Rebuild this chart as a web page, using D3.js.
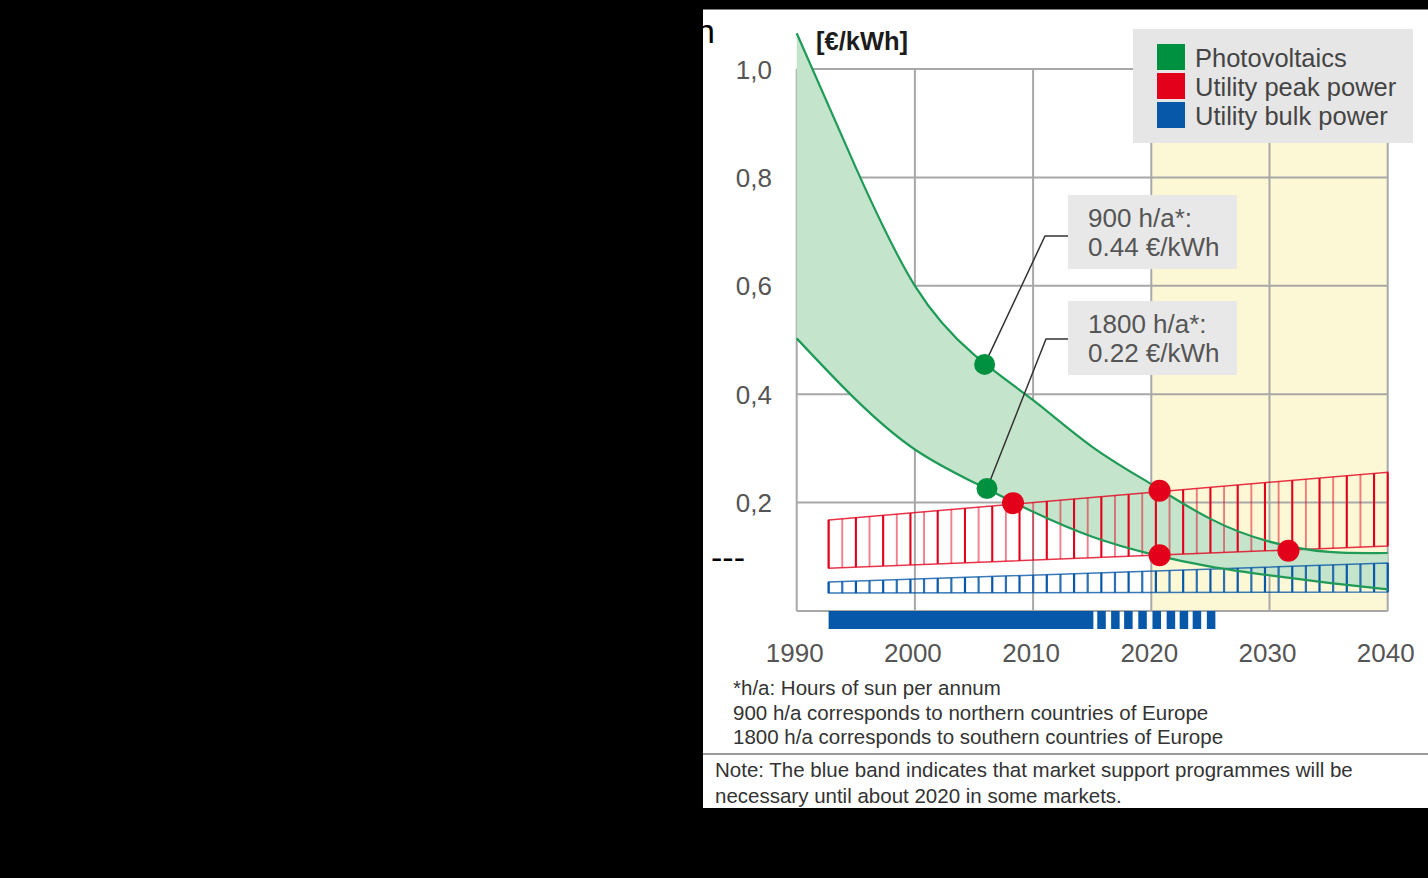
<!DOCTYPE html>
<html><head><meta charset="utf-8">
<script src="https://cdn.jsdelivr.net/npm/d3@7"></script>
<style>
body{margin:0;background:#000;}
svg{display:block;}
text{font-family:"Liberation Sans",Arial,Helvetica,sans-serif;}
</style>
</head><body>
<svg id="c" width="1428" height="878"></svg>
<script>
// ---------- data ----------
const years   = [1990, 1995, 2000, 2005, 2010, 2015, 2020, 2025, 2030, 2035, 2040];
const pvUpper = [1.066, 0.818, 0.600, 0.473, 0.389, 0.303, 0.234, 0.170, 0.128, 0.109, 0.107];
const pvLower = [0.503, 0.390, 0.298, 0.237, 0.183, 0.137, 0.105, 0.082, 0.066, 0.052, 0.040];
const bandYears = [1992.7, 2040];
const peakHigh  = [0.168, 0.256];
const peakLow   = [0.079, 0.120];
const bulkHigh  = [0.0535, 0.0886];
const bulkLow   = [0.033, 0.035];
const peakMarkers = [[2008.3, 0.199], [2020.7, 0.222], [2020.7, 0.103], [2031.6, 0.111]];
const pvMarkers   = [[2005.9, 0.455], [2006.1, 0.226]];
const xTicks = [1990, 2000, 2010, 2020, 2030, 2040];
const yTicks = [0.2, 0.4, 0.6, 0.8, 1.0];
const supportSolid  = [1992.7, 2015.1];
const supportDashes = [2015.43, 2016.6, 2017.7, 2018.9, 2020.1, 2021.3, 2022.4, 2023.5, 2024.7];
const supportDashLen = 0.72;
const outlookRange = [2020, 2040];
const legendItems = ["Photovoltaics", "Utility peak power", "Utility bulk power"];
const callouts = [["900 h/a*:", "0.44 €/kWh"], ["1800 h/a*:", "0.22 €/kWh"]];
const unitLabel = "[€/kWh]";
const footnotes = ["*h/a: Hours of sun per annum",
                   "900 h/a corresponds to northern countries of Europe",
                   "1800 h/a corresponds to southern countries of Europe"];
const notes = ["Note: The blue band indicates that market support programmes will be",
               "necessary until about 2020 in some markets."];

// ---------- setup ----------
const svg = d3.select("#c");
const C = {green:"#009140", greenLine:"#1f9a57", greenFill:"#c4e4cc", red:"#e3001b", blue:"#0758a8",
           grid:"#a8a8a8", text:"#555"};
const x = d3.scaleLinear().domain([1990, 2040]).range([796.7, 1387.7]);
const y = d3.scaleLinear().domain([0, 1]).range([611, 69]);
const curve = d3.curveNatural;

// page panel
svg.append("rect").attr("x",703).attr("y",9.5).attr("width",725).attr("height",798.5).attr("fill","#fff");

// stray text fragments
svg.append("text").attr("x",696).attr("y",42.5).attr("font-size",34).attr("fill","#000").text("n");
svg.append("text").attr("x",711).attr("y",569).attr("font-size",34).attr("fill","#000").text("---");

// outlook area
svg.append("rect").attr("x",x(outlookRange[0])).attr("y",y(1)).attr("width",x(outlookRange[1])-x(outlookRange[0]))
  .attr("height",y(0)-y(1)).attr("fill","#fcf8d6");

// grid
const g = svg.append("g");
g.selectAll("line.v").data(xTicks).join("line").attr("class","v")
  .attr("x1",d=>x(d)).attr("x2",d=>x(d)).attr("y1",y(1)).attr("y2",y(0))
  .attr("stroke",C.grid).attr("stroke-width",2);
g.selectAll("line.h").data([0].concat(yTicks)).join("line").attr("class","h")
  .attr("x1",x(1990)).attr("x2",x(2040)).attr("y1",d=>y(d)).attr("y2",d=>y(d))
  .attr("stroke",C.grid).attr("stroke-width",2);

// PV area
const pv = years.map((t,i)=>({t, hi:pvUpper[i], lo:pvLower[i]}));
const area = d3.area().x(d=>x(d.t)).y0(d=>y(d.lo)).y1(d=>y(d.hi)).curve(curve);
svg.append("path").datum(pv).attr("d",area).attr("fill",C.greenFill);

// hatched bands
function band(high, low, color, widthA, widthB, opB){
  const hi = d3.scaleLinear().domain(bandYears).range(high);
  const lo = d3.scaleLinear().domain(bandYears).range(low);
  const n = 41;
  const ts = d3.range(n+1).map(i => bandYears[0] + i*(bandYears[1]-bandYears[0])/n);
  const gg = svg.append("g");
  gg.selectAll("line").data(ts).join("line")
    .attr("x1",d=>x(d)).attr("x2",d=>x(d)).attr("y1",d=>y(hi(d))).attr("y2",d=>y(lo(d)))
    .attr("stroke",color).attr("stroke-width",(d,i)=> i%2 ? widthB : widthA)
    .attr("stroke-opacity",(d,i)=> (i%2 && i<n) ? opB : 1);
  const poly = [[bandYears[0],high[0]],[bandYears[1],high[1]],[bandYears[1],low[1]],[bandYears[0],low[0]]];
  gg.append("path").attr("d", d3.line().x(d=>x(d[0])).y(d=>y(d[1]))(poly)+"Z")
    .attr("fill","none").attr("stroke",color).attr("stroke-width",1.5).attr("stroke-opacity",0.8);
}
band(peakHigh, peakLow, C.red, 2.1, 1.9, 0.5);
band(bulkHigh, bulkLow, C.blue, 2.2, 2.2, 0.85);

// PV lines
const lineU = d3.line().x(d=>x(d.t)).y(d=>y(d.hi)).curve(curve);
const lineL = d3.line().x(d=>x(d.t)).y(d=>y(d.lo)).curve(curve);
svg.append("path").datum(pv).attr("d",lineU).attr("fill","none").attr("stroke",C.greenLine).attr("stroke-width",2.2);
svg.append("path").datum(pv).attr("d",lineL).attr("fill","none").attr("stroke",C.greenLine).attr("stroke-width",2.2);

// support programme bar
svg.append("rect").attr("x",x(supportSolid[0])).attr("y",611).attr("width",x(supportSolid[1])-x(supportSolid[0]))
  .attr("height",18).attr("fill",C.blue);
svg.selectAll("rect.dash").data(supportDashes).join("rect").attr("class","dash")
  .attr("x",d=>x(d)).attr("y",611).attr("width",x(1990+supportDashLen)-x(1990)).attr("height",18).attr("fill",C.blue);

// callouts
const elbows = [[1045,236],[1046,339]];
pvMarkers.forEach((m,i)=>{
  svg.append("polyline").attr("points",[[x(m[0]),y(m[1])],elbows[i],[1068,elbows[i][1]]].map(p=>p.join(",")).join(" "))
    .attr("fill","none").attr("stroke","#333").attr("stroke-width",1.5);
});
const boxTop = [195, 301];
callouts.forEach((c,i)=>{
  svg.append("rect").attr("x",1068).attr("y",boxTop[i]).attr("width",169).attr("height",74).attr("fill","#e8e8e8");
  c.forEach((s,j)=> svg.append("text").attr("x",1088).attr("y",boxTop[i]+32+j*28.5)
    .attr("font-size",26).attr("fill",C.text).text(s));
});

// markers
svg.selectAll("circle.pv").data(pvMarkers).join("circle").attr("class","pv")
  .attr("cx",d=>x(d[0])).attr("cy",d=>y(d[1])).attr("r",10.5).attr("fill",C.green);
svg.selectAll("circle.pk").data(peakMarkers).join("circle").attr("class","pk")
  .attr("cx",d=>x(d[0])).attr("cy",d=>y(d[1])).attr("r",11).attr("fill",C.red);

// axes labels
svg.append("g").selectAll("text").data(xTicks).join("text")
  .attr("x",d=>x(d)-2).attr("y",662).attr("text-anchor","middle").attr("font-size",26)
  .attr("fill",C.text).text(d=>d3.format("d")(d));
svg.append("g").selectAll("text").data(yTicks).join("text")
  .attr("x",772).attr("y",d=>y(d)+9.5).attr("text-anchor","end").attr("font-size",26)
  .attr("fill",C.text).text(d=>d3.format(".1f")(d).replace(".",","));
svg.append("text").attr("x",816).attr("y",50).attr("font-size",25.5).attr("font-weight","bold")
  .attr("fill","#1c1c1c").text(unitLabel);

// legend
svg.append("rect").attr("x",1133).attr("y",29).attr("width",280).attr("height",114).attr("fill","#e6e6e6");
const lc = [C.green, C.red, C.blue];
legendItems.forEach((s,i)=>{
  svg.append("rect").attr("x",1157).attr("y",44+i*29).attr("width",28).attr("height",26).attr("fill",lc[i]);
  svg.append("text").attr("x",1195).attr("y",67+i*29).attr("font-size",25.5).attr("fill","#444").text(s);
});

// footnotes
footnotes.forEach((s,i)=> svg.append("text").attr("x",733).attr("y",695+i*24.5).attr("font-size",20.5)
  .attr("fill","#333").text(s));
svg.append("line").attr("x1",703).attr("x2",1428).attr("y1",754).attr("y2",754).attr("stroke","#9a9a9a").attr("stroke-width",2);
notes.forEach((s,i)=> svg.append("text").attr("x",715).attr("y",777+i*25.5).attr("font-size",20.5)
  .attr("fill","#333").text(s));
</script>
</body></html>
